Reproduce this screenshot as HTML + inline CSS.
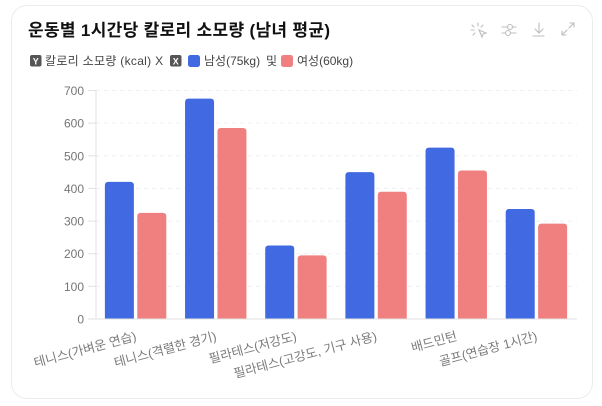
<!DOCTYPE html>
<html lang="ko">
<head>
<meta charset="utf-8">
<style>
html,body{margin:0;padding:0;background:#fff;}
body{width:602px;height:406px;overflow:hidden;position:relative;font-family:"Liberation Sans","Noto Sans CJK KR",sans-serif;}
#card{position:absolute;left:11px;top:5px;width:582px;height:394px;border:1px solid #ececec;border-radius:16px;box-sizing:border-box;background:#fff;}
svg{position:absolute;left:0;top:0;}
</style>
</head>
<body>
<div id="card"></div>
<svg id="chart" width="602" height="406" viewBox="0 0 602 406" font-family="'Liberation Sans','Noto Sans CJK KR',sans-serif">
  <text x="28" y="36" font-size="17" font-weight="700" letter-spacing="0.32" fill="#111">운동별 1시간당 칼로리 소모량 (남녀 평균)</text>

  <g fill="none" stroke="#bdbdbd" stroke-width="1.1" stroke-linecap="round">
    <g>
      <path d="M479 30l7 3-3 1-1 3z"/>
      <path d="M478 23v3M472 25l2 2M471 30h3M473 35l2-2M483 25l-2 2"/>
    </g>
    <g>
      <path d="M502 27h5M513 27h3M502 33h3M511 33h5"/>
      <circle cx="510" cy="27" r="2.5"/>
      <circle cx="508" cy="33" r="2.5"/>
    </g>
    <g>
      <path d="M539 23v9M535 29l4 4 4-4M533 36h11"/>
    </g>
    <g>
      <path d="M569 28l5-5M570 23h4v4M562 35l5-5M562 31v4h4"/>
    </g>
  </g>

  <g font-size="12" fill="#444">
    <rect x="30" y="55" width="11.5" height="11.5" rx="2" fill="#555"/>
    <text x="35.8" y="64.5" font-size="9" font-weight="700" fill="#fff" text-anchor="middle">Y</text>
    <text x="45" y="65" letter-spacing="0.3">칼로리 소모량 (kcal) X</text>
    <rect x="170" y="55" width="11.5" height="11.5" rx="2" fill="#555"/>
    <text x="175.8" y="64.5" font-size="9" font-weight="700" fill="#fff" text-anchor="middle">X</text>
    <rect x="188" y="55" width="12" height="12" rx="2.5" fill="#4169e1"/>
    <text x="204" y="65">남성(75kg)</text>
    <text x="266" y="65">및</text>
    <rect x="281" y="55" width="12" height="12" rx="2.5" fill="#f08080"/>
    <text x="297" y="65">여성(60kg)</text>
  </g>

  <g id="grid"></g>
  <g id="yAxis"></g>
  <g id="bars"></g>
  <g id="xAxis"></g>
</svg>
<script>
const categories = ['테니스(가벼운 연습)', '테니스(격렬한 경기)', '필라테스(저강도)', '필라테스(고강도, 기구 사용)', '배드민턴', '골프(연습장 1시간)'];
const maleValues = [420, 675, 225, 450, 525, 337];
const femaleValues = [325, 585, 195, 390, 455, 292];
const yTicks = [0, 100, 200, 300, 400, 500, 600, 700];

const NS = 'http://www.w3.org/2000/svg';
const plot = { left: 96, right: 577, top: 90.5, bottom: 319 };
const yMax = 700;
const barWidth = 29;
const barGap = 3.4;
const bandWidth = (plot.right - plot.left) / categories.length;

function yScale(v) { return plot.bottom - (v / yMax) * (plot.bottom - plot.top); }
function bandCenter(i) { return plot.left + bandWidth * (i + 0.5); }

function make(tag, attrs, parent) {
  const el = document.createElementNS(NS, tag);
  for (const k in attrs) el.setAttribute(k, attrs[k]);
  parent.appendChild(el);
  return el;
}

const gridG = document.getElementById('grid');
const yG = document.getElementById('yAxis');
const barsG = document.getElementById('bars');
const xG = document.getElementById('xAxis');

yTicks.forEach(function (t) {
  const y = yScale(t);
  if (t > 0) {
    const line = make('line', { x1: plot.left, x2: plot.right, y1: y, y2: y, stroke: '#efefef', 'stroke-width': 1, 'stroke-dasharray': '4 4' }, gridG);
    
    
  }
  const tick = make('line', { x1: plot.left - 8, x2: plot.left, y1: y, y2: y, stroke: '#e2e2e2', 'stroke-width': 1 }, yG);
  
  
  const label = make('text', { x: plot.left - 12, y: y + 4.5, 'font-size': 12, fill: '#757575', 'text-anchor': 'end' }, yG);
  label.textContent = String(t);
  
  
});

const yLine = make('line', { x1: plot.left, x2: plot.left, y1: plot.top, y2: plot.bottom, stroke: '#e2e2e2', 'stroke-width': 1 }, yG);



function drawBar(x, value, color) {
  const top = yScale(value);
  const h = plot.bottom - top;
  const r = Math.min(3.5, h);
  const d = 'M' + x + ' ' + plot.bottom + 'V' + (top + r) + 'Q' + x + ' ' + top + ' ' + (x + r) + ' ' + top +
    'H' + (x + barWidth - r) + 'Q' + (x + barWidth) + ' ' + top + ' ' + (x + barWidth) + ' ' + (top + r) +
    'V' + plot.bottom + 'Z';
  return make('path', { d: d, fill: color }, barsG);
}

categories.forEach(function (c, i) {
  const cx = bandCenter(i) - 0.5;
  const male = drawBar(cx - barGap / 2 - barWidth, maleValues[i], '#4169e1');
  
  
  const female = drawBar(cx + barGap / 2, femaleValues[i], '#f08080');
  
  
  const ax = cx + 1.5;
  const ay = 340;
  const label = make('text', { x: ax, y: ay, 'font-size': 12.7, fill: '#7a7a7a', 'text-anchor': 'end', transform: 'rotate(-15 ' + ax + ' ' + ay + ')' }, xG);
  label.textContent = c;
  
  
});

const xLine = make('line', { x1: plot.left, x2: plot.right, y1: plot.bottom, y2: plot.bottom, stroke: '#e2e2e2', 'stroke-width': 1 }, xG);


</script>
</body>
</html>
